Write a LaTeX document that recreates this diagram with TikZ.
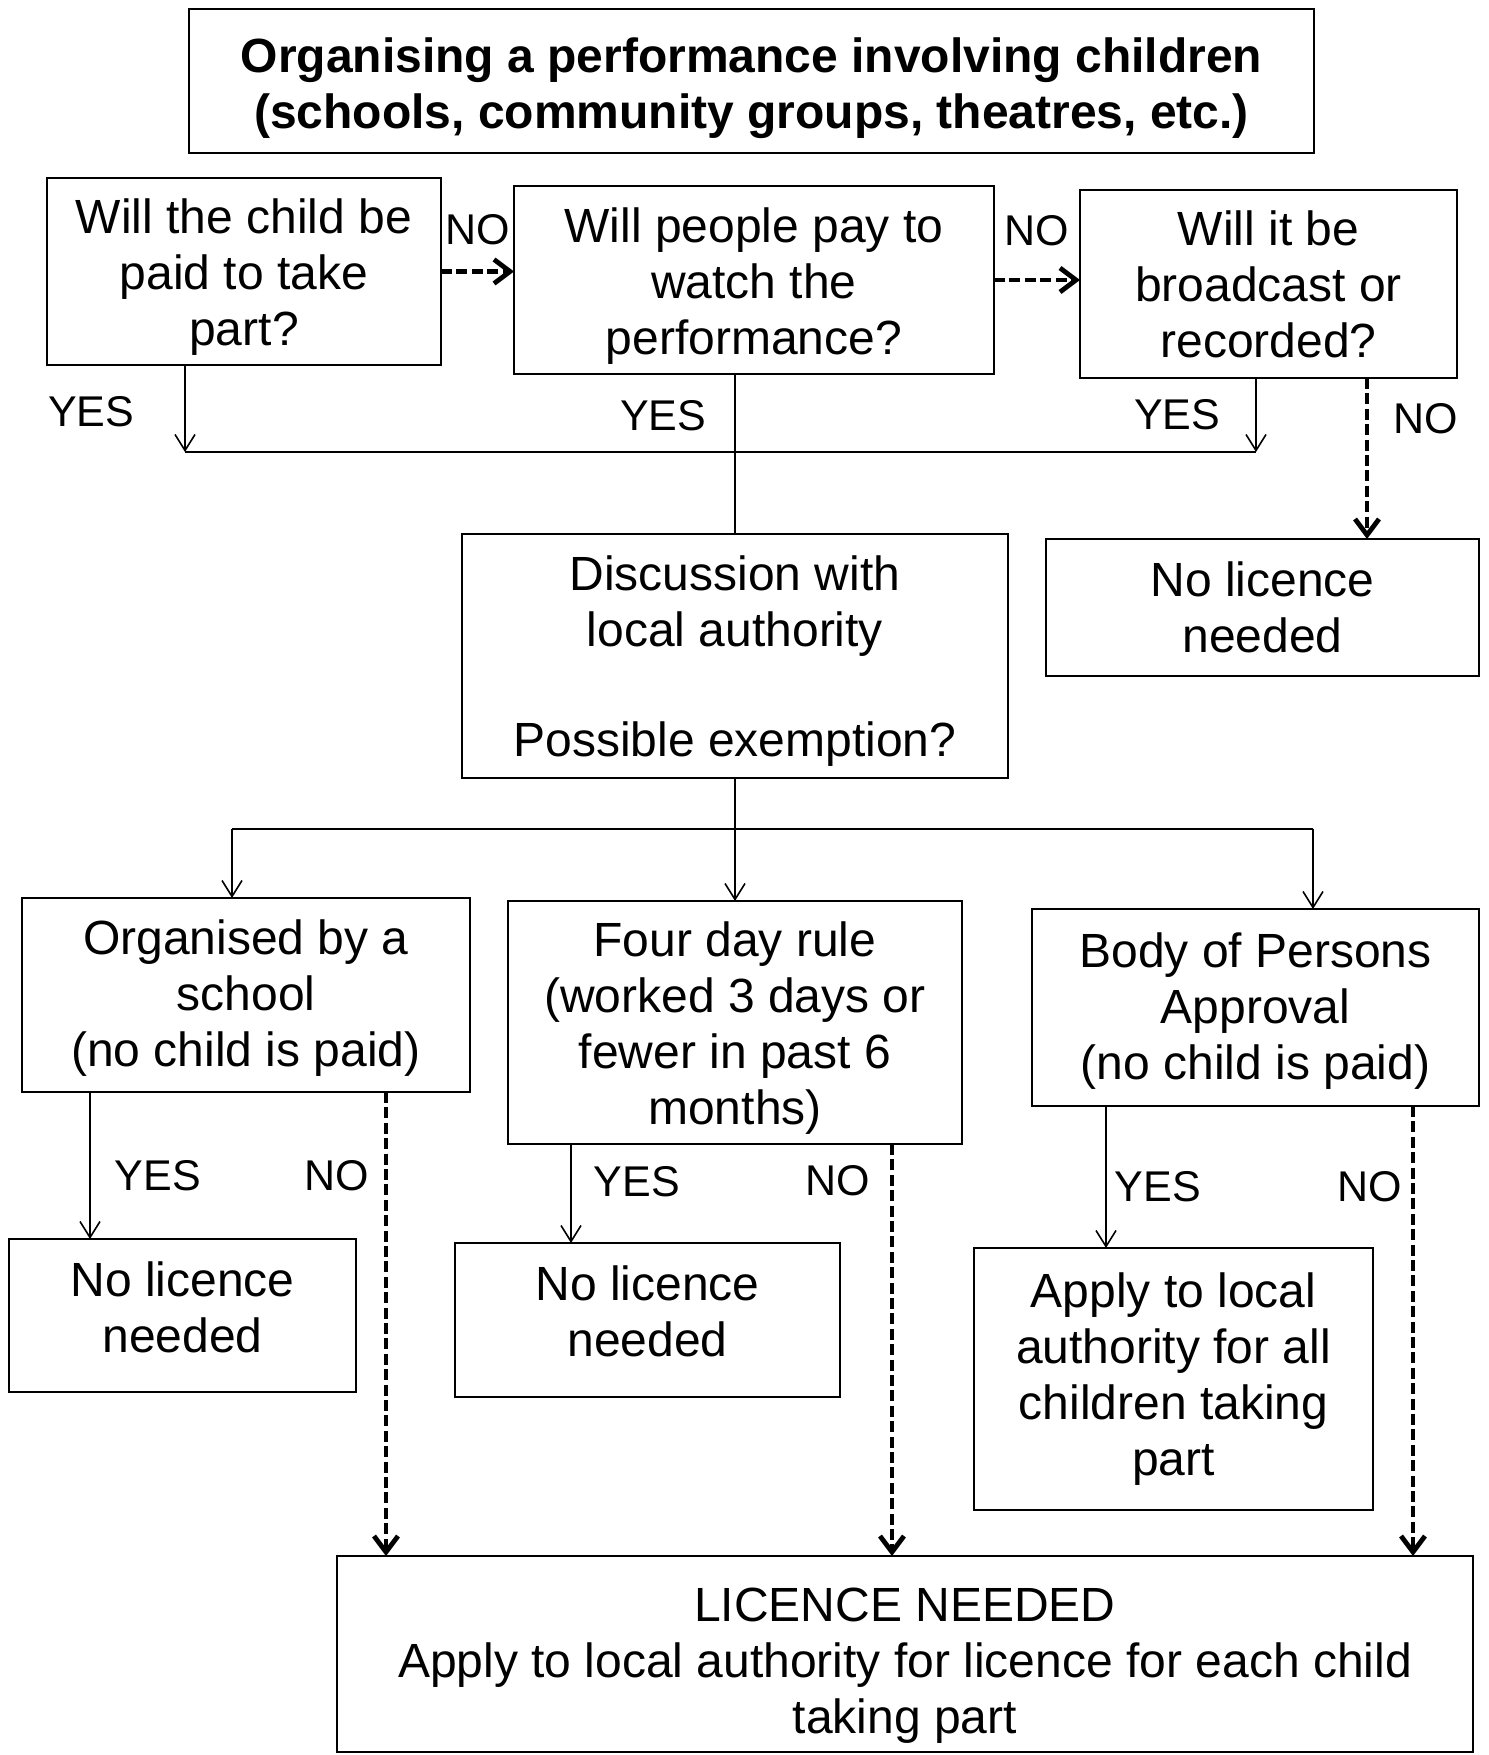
\documentclass[tikz,border=0pt]{standalone}
\usepackage{fontspec}
\setmainfont{Liberation Sans}
\usetikzlibrary{arrows.meta,positioning}
\newcommand\padTop[1]{\rule{0pt}{#1}}
\newcommand\padBot[1]{\rule[-#1]{0pt}{0pt}}
\begin{document}
\begin{tikzpicture}[x=0.5pt,y=-0.5pt,
    flowBox/.style={draw,line width=1pt,align=center,inner sep=0pt,outer sep=0pt,
      font=\fontsize{24}{28}\selectfont},
    answer/.style={inner sep=0pt,font=\fontsize{21.5}{25}\selectfont},
    thinLine/.style={line width=0.8pt},
    yesArrow/.style={thinLine,-{Straight Barb[length=8pt,width=10pt]}},
    noArrow/.style={line width=2.4pt,dash pattern=on 5.5pt off 2.2pt,
      -{Straight Barb[length=8pt,width=12pt]}}]
  \useasboundingbox (0,0) rectangle (1488,1755);
  \node[flowBox,minimum width=562.5pt,minimum height=72pt,
    font=\fontsize{24}{28}\selectfont\bfseries] (title) at (751.5,81)
    {\padTop{25pt}Organising a performance involving children\\(schools, community groups, theatres, etc.)};
  \node[flowBox,minimum width=197pt,minimum height=93.5pt] (paid) at (244,271.5)
    {\padTop{23pt}Will the child be\\paid to take\\part?};
  \node[flowBox,minimum width=240pt,minimum height=94pt] (pay) at (754,280)
    {\padTop{23pt}Will people pay to\\watch the\\performance?};
  \node[flowBox,minimum width=188.5pt,minimum height=94pt] (broadcast) at (1268.5,284)
    {Will it be\\broadcast or\\recorded?};
  \node[flowBox,minimum width=273pt,minimum height=122pt] (discuss) at (735,656)
    {\padTop{22.5pt}Discussion with\\local authority\\[27pt]Possible exemption?};
  \node[flowBox,minimum width=216.5pt,minimum height=68.5pt] (nolicTop) at (1262.5,607.5)
    {No licence\\needed};
  \node[flowBox,minimum width=224pt,minimum height=97pt] (school) at (246,995)
    {\padTop{20pt}Organised by a\\school\\(no child is paid)};
  \node[flowBox,minimum width=227pt,minimum height=121.5pt] (fourday) at (735,1022.5)
    {\padTop{23pt}Four day rule\\(worked 3 days or\\fewer in past 6\\months)};
  \node[flowBox,minimum width=223.5pt,minimum height=98.5pt] (bodyp) at (1255.5,1007.5)
    {\padTop{21pt}Body of Persons\\Approval\\(no child is paid)};
  \node[flowBox,minimum width=173.5pt,minimum height=76.5pt] (nolicA) at (182.5,1315.5)
    {No licence\\needed\padBot{8pt}};
  \node[flowBox,minimum width=192.5pt,minimum height=77pt] (nolicB) at (647.5,1320)
    {No licence\\needed\padBot{9pt}};
  \node[flowBox,minimum width=199.5pt,minimum height=131pt] (applyAll) at (1173.5,1379)
    {Apply to local\\authority for all\\children taking\\part};
  \node[flowBox,minimum width=568pt,minimum height=98pt] (licence) at (905,1654)
    {\padTop{28pt}LICENCE NEEDED\\Apply to local authority for licence for each child\\taking part};

  \draw[noArrow] (paid.east) -- (paid.east -| pay.west)
    node[midway,above=12pt,answer]{NO};
  \draw[noArrow] (pay.east) -- (pay.east -| broadcast.west)
    node[midway,above=16pt,answer]{NO};

  \coordinate (barTop) at (0,452);
  \coordinate (yesA) at ([xshift=-29.5pt]paid.south);
  \coordinate (yesC) at ([xshift=-6.25pt]broadcast.south);
  \coordinate (noC) at ([xshift=49.25pt]broadcast.south);
  \draw[yesArrow] (yesA) -- (yesA |- barTop) node[pos=0.54,left=25pt,answer]{YES};
  \draw[yesArrow] (yesC) -- (yesC |- barTop) node[pos=0.49,left=17.5pt,answer]{YES};
  \draw[thinLine] (yesA |- barTop) -- (yesC |- barTop);
  \draw[thinLine] (discuss.north |- pay.south) -- (discuss.north)
    node[pos=0.26,left=14pt,answer]{YES};
  \draw[noArrow] (noC) -- (noC |- nolicTop.north) node[pos=0.25,right=12pt,answer]{NO};

  \coordinate (barMid) at (0,829);
  \coordinate (inF) at ([xshift=-7pt]school.north);
  \coordinate (inH) at ([xshift=28.75pt]bodyp.north);
  \draw[thinLine] (discuss.south) -- (discuss.south |- barMid);
  \draw[thinLine] (inF |- barMid) -- (inH |- barMid);
  \foreach \dest in {inF,fourday.north,inH}
    \draw[yesArrow] (\dest |- barMid) -- (\dest);

  \coordinate (yesF) at ([xshift=-78pt]school.south);
  \coordinate (noF) at ([xshift=70pt]school.south);
  \coordinate (yesG) at ([xshift=-82pt]fourday.south);
  \coordinate (noG) at ([xshift=78.5pt]fourday.south);
  \coordinate (yesH) at ([xshift=-74.75pt]bodyp.south);
  \coordinate (noH) at ([xshift=78.75pt]bodyp.south);
  \draw[yesArrow] (yesF) -- (yesF |- nolicA.north) node[pos=0.57,right=12pt,answer]{YES};
  \draw[noArrow] (noF) -- (noF |- licence.north) node[pos=0.18,left=7.5pt,answer]{NO};
  \draw[yesArrow] (yesG) -- (yesG |- nolicB.north) node[pos=0.38,right=11pt,answer]{YES};
  \draw[noArrow] (noG) -- (noG |- licence.north) node[pos=0.09,left=10pt,answer]{NO};
  \draw[yesArrow] (yesH) -- (yesH |- applyAll.north) node[pos=0.57,right=4pt,answer]{YES};
  \draw[noArrow] (noH) -- (noH |- licence.north) node[pos=0.18,left=4.5pt,answer]{NO};
\end{tikzpicture}
\end{document}
